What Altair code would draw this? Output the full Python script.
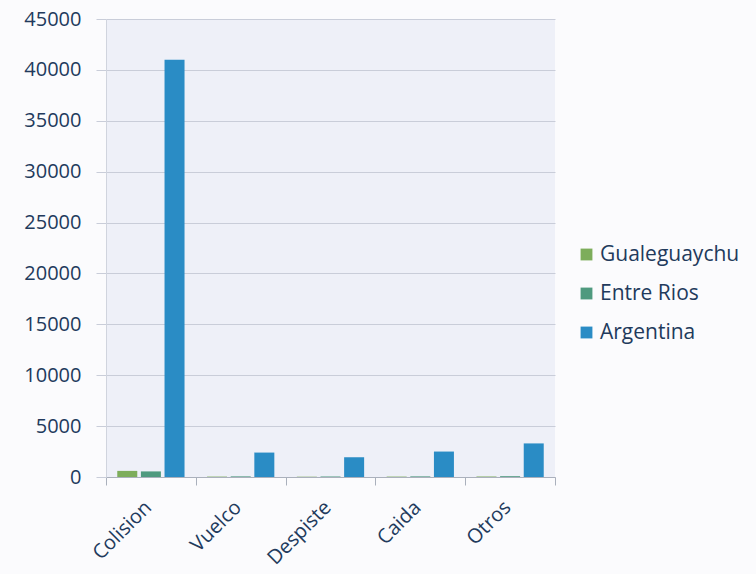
import altair as alt
import pandas as pd

categories = ["Colision", "Vuelco", "Despiste", "Caida", "Otros"]
series = ["Gualeguaychu", "Entre Rios", "Argentina"]
gualeguaychu = [600, 40, 30, 40, 50]
entre_rios = [550, 60, 50, 60, 80]
argentina = [41000, 2400, 1950, 2500, 3300]

rows = []
for i, c in enumerate(categories):
    for s, vals in zip(series, [gualeguaychu, entre_rios, argentina]):
        rows.append({"cat": c, "serie": s, "valor": vals[i]})
df = pd.DataFrame(rows)

font = "Open Sans"
label_color = "#223a5c"

chart = alt.Chart(df).mark_bar(size=20).encode(
    x=alt.X("cat:N", sort=categories, title=None,
            scale=alt.Scale(paddingInner=0, paddingOuter=0),
            axis=alt.Axis(labelAngle=-45, labelFontSize=20, labelFont=font,
                          labelColor=label_color, domainColor="#aab0bc",
                          tickColor="#aab0bc", tickSize=8, labelPadding=12,
                          labelOffset=-10,
                          grid=False, tickBand="extent")),
    xOffset=alt.XOffset("serie:N", sort=series,
                        scale=alt.Scale(paddingInner=0, paddingOuter=0.4)),
    y=alt.Y("valor:Q", title=None,
            scale=alt.Scale(domain=[0, 45000], nice=False),
            axis=alt.Axis(values=list(range(0, 45001, 5000)), format="d",
                          labelFontSize=20,
                          labelFont=font, labelColor=label_color,
                          gridColor="#c9cdd9", tickColor="#c9cdd9", tickSize=10,
                          domainColor="#d0d4de", labelPadding=15)),
    color=alt.Color("serie:N", sort=series, title=None,
                    scale=alt.Scale(domain=series, range=["#7dad5b", "#4f9a7f", "#2a8cc5"]),
                    legend=alt.Legend(orient="none", legendX=470, legendY=225,
                                      symbolType="square", symbolSize=140,
                                      labelFontSize=21, labelFont=font,
                                      labelFontWeight=500, labelOffset=3,
                                      labelColor=label_color, rowPadding=17,
                                      symbolStrokeWidth=0)),
).properties(
    width=449, height=458,
    padding={"left": 106, "top": 19, "right": 201, "bottom": 97},
    autosize=alt.AutoSizeParams(type="none"),
    background="#fbfbfd",
).configure_view(
    fill="#eef0f8", stroke=None
)

chart.save("out.html", embed_options={"renderer": "svg", "actions": False})
